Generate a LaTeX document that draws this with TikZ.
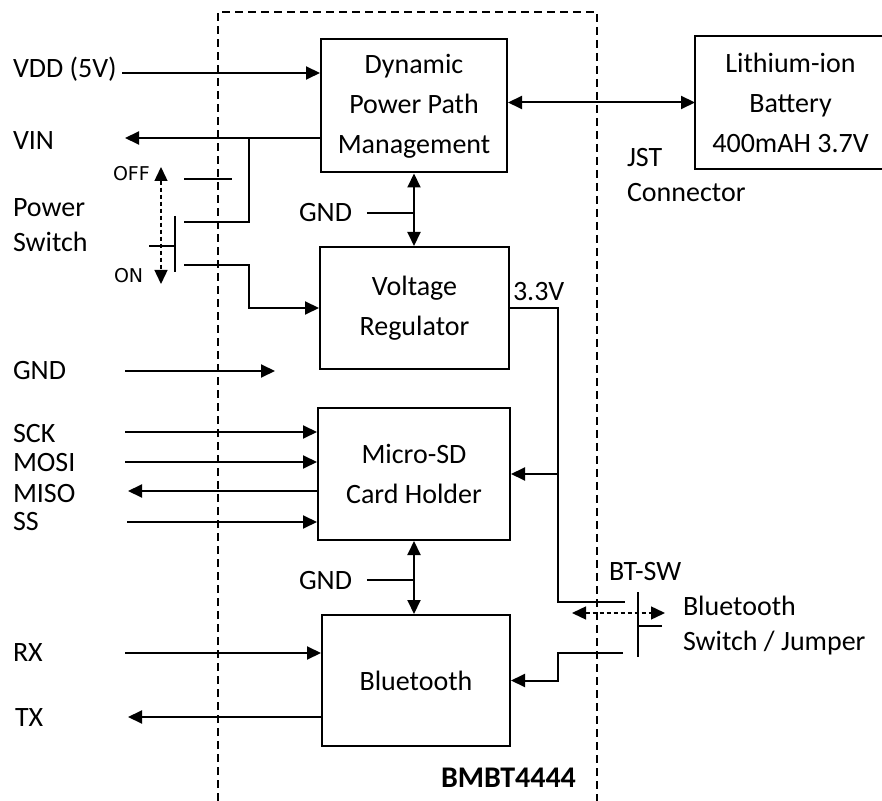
\documentclass[tikz,border=0pt]{standalone}
\usepackage{fontspec}
\setmainfont{Carlito}
\newfontfamily\switchfont{DejaVu Sans}
\usetikzlibrary{arrows.meta}

\begin{document}
\begin{tikzpicture}[
    x=0.5pt, y=-0.5pt,
    font=\fontsize{14}{20}\selectfont,
    line width=1pt,
    block/.style   = {rectangle, draw, line width=1pt, align=center, inner sep=0pt},
    lbl/.style     = {anchor=base west, inner sep=0pt},
    swlbl/.style   = {anchor=base west, inner sep=0pt,
                      font=\switchfont\fontsize{9.5}{11}\selectfont},
    arrow/.style   = {-{Triangle[length=7pt, width=6.5pt]}},
    biarrow/.style = {{Triangle[length=7pt, width=6.5pt]}-{Triangle[length=7pt, width=6.5pt]}},
    toggle/.style  = {biarrow, dash pattern=on 2pt off 1.5pt, line width=0.7pt},
    frame/.style   = {dash pattern=on 4pt off 2.5pt},
]
\useasboundingbox (0,0) rectangle (882,801);

% module outline
\draw[frame] (218,801) |- (597,12) -- (597,801);
\node[lbl, font=\bfseries\fontsize{15}{18}\selectfont] (bmbt) at (440,787) {BMBT4444};

% blocks
\node[block, minimum width=93pt,   minimum height=66.5pt] (dppm) at (414,106)    {Dynamic\\Power Path\\Management};
\node[block, draw=none, minimum width=94.5pt, minimum height=65.5pt] (batt) at (790.5,102.5) {Lithium-ion\\Battery\\400mAH 3.7V};
\node[block, minimum width=94.5pt, minimum height=61pt]   (vreg) at (414.5,308)  {Voltage\\Regulator};
\node[block, minimum width=96pt,   minimum height=66pt]   (sd)   at (414,474)    {Micro-SD\\Card Holder};
\node[block, minimum width=94pt,   minimum height=65.5pt] (bt)   at (416,680.5)  {Bluetooth};
% battery box runs off the right edge
\draw ([xshift=10pt]batt.north east) -| (batt.south west) -- ([xshift=10pt]batt.south east);

% pin labels
\node[lbl] (vdd)   at (12,78)  {VDD (5V)};
\node[lbl] (vin)   at (12,150) {VIN};
\node[lbl] (pwr)   at (12,217) {Power};
\node[lbl] (swt)   at (12,252) {Switch};
\node[swlbl] (off) at (112,181) {OFF};
\node[swlbl] (on)  at (113,283) {ON};
\node[lbl] (gnd)   at (12,380) {GND};
\node[lbl] (sck)   at (12,443) {SCK};
\node[lbl] (mosi)  at (12,472) {MOSI};
\node[lbl] (miso)  at (12,502) {MISO};
\node[lbl] (ss)    at (12,530) {SS};
\node[lbl] (rx)    at (12,661) {RX};
\node[lbl] (tx)    at (14,726) {TX};
\node[lbl] (gndpp) at (298,222) {GND};
\node[lbl] (gndsd) at (298,589) {GND};
\node[lbl] (v33)   at (512,301) {3.3V};
\node[lbl] (jst)   at (626,167) {JST};
\node[lbl] (conn)  at (626,202) {Connector};
\node[lbl] (btsw)  at (608,580) {BT-SW};
\node[lbl] (btnm)  at (682,615) {Bluetooth};
\node[lbl] (btjp)  at (682,650) {Switch / Jumper};

% free wire ends
\coordinate (vddin)   at (122,73);
\coordinate (vinout)  at (125,138);
\coordinate (vinjoin) at (249,138);
\coordinate (offc)    at (184,179);
\coordinate (offe)    at (232,179);
\coordinate (midc)    at (184,222);
\coordinate (onc)     at (184,265);
\coordinate (onbend)  at (249,265);
\coordinate (bladet)  at (175,216);
\coordinate (bladeb)  at (175,272);
\coordinate (stub)    at (149,246);
\coordinate (togt)    at (161,167);
\coordinate (togb)    at (161,284);
\coordinate (gndin)   at (125,371);
\coordinate (gndend)  at (275,371);
\coordinate (sckin)   at (125,432);
\coordinate (mosiin)  at (125,462);
\coordinate (misoout) at (128,491);
\coordinate (ssin)    at (127,522);
\coordinate (rxin)    at (125,653);
\coordinate (txout)   at (128,717);
\coordinate (railbot) at (558,602);
\coordinate (swtop)   at (625,602);
\coordinate (swbot)   at (623,653);
\coordinate (btbend)  at (558,653);
\coordinate (btbladet) at (638,592);
\coordinate (btbladeb) at (638,657);
\coordinate (btstub)  at (662,626);
\coordinate (btlft)   at (572,613);
\coordinate (btrgt)   at (665,613);

% power path
\draw[arrow]   (vddin) -- (vddin -| dppm.west);
\draw[arrow]   (vinout -| dppm.west) -- (vinout);
\draw          (vinjoin) |- (midc);
\draw[biarrow] (dppm.east |- batt.west) -- (batt.west);
\draw[biarrow] (dppm.south) -- (dppm.south |- vreg.north);
\draw          ([xshift=7pt]gndpp.east) -- (gndpp.east -| dppm.south);

% power switch
\draw          (offc) -- (offe);
\draw[arrow]   (onc) -- (onbend) |- (vreg.west);
\draw          (bladet) -- (bladeb);
\draw          (stub) -- (stub -| bladet);
\draw[toggle]  (togt) -- (togb);

% ground in
\draw[arrow]   (gndin) -- (gndend);

% SPI
\draw[arrow]   (sckin) -- (sckin -| sd.west);
\draw[arrow]   (mosiin) -- (mosiin -| sd.west);
\draw[arrow]   (misoout -| sd.west) -- (misoout);
\draw[arrow]   (ssin) -- (ssin -| sd.west);
\draw[biarrow] (sd.south) -- (sd.south |- bt.north);
\draw          ([xshift=7pt]gndsd.east) -- (gndsd.east -| sd.south);

% 3.3V rail
\draw          (vreg.east) -| (railbot) -- (swtop);
\draw[arrow]   (sd.east -| railbot) -- (sd.east);

% bluetooth
\draw[arrow]   (rxin) -- (rxin -| bt.west);
\draw[arrow]   (txout -| bt.west) -- (txout);
\draw[arrow]   (swbot) -- (btbend) |- (bt.east);
\draw          (btbladet) -- (btbladeb);
\draw          (btstub) -- (btstub -| btbladet);
\draw[toggle]  (btlft) -- (btrgt);

\end{tikzpicture}
\end{document}
